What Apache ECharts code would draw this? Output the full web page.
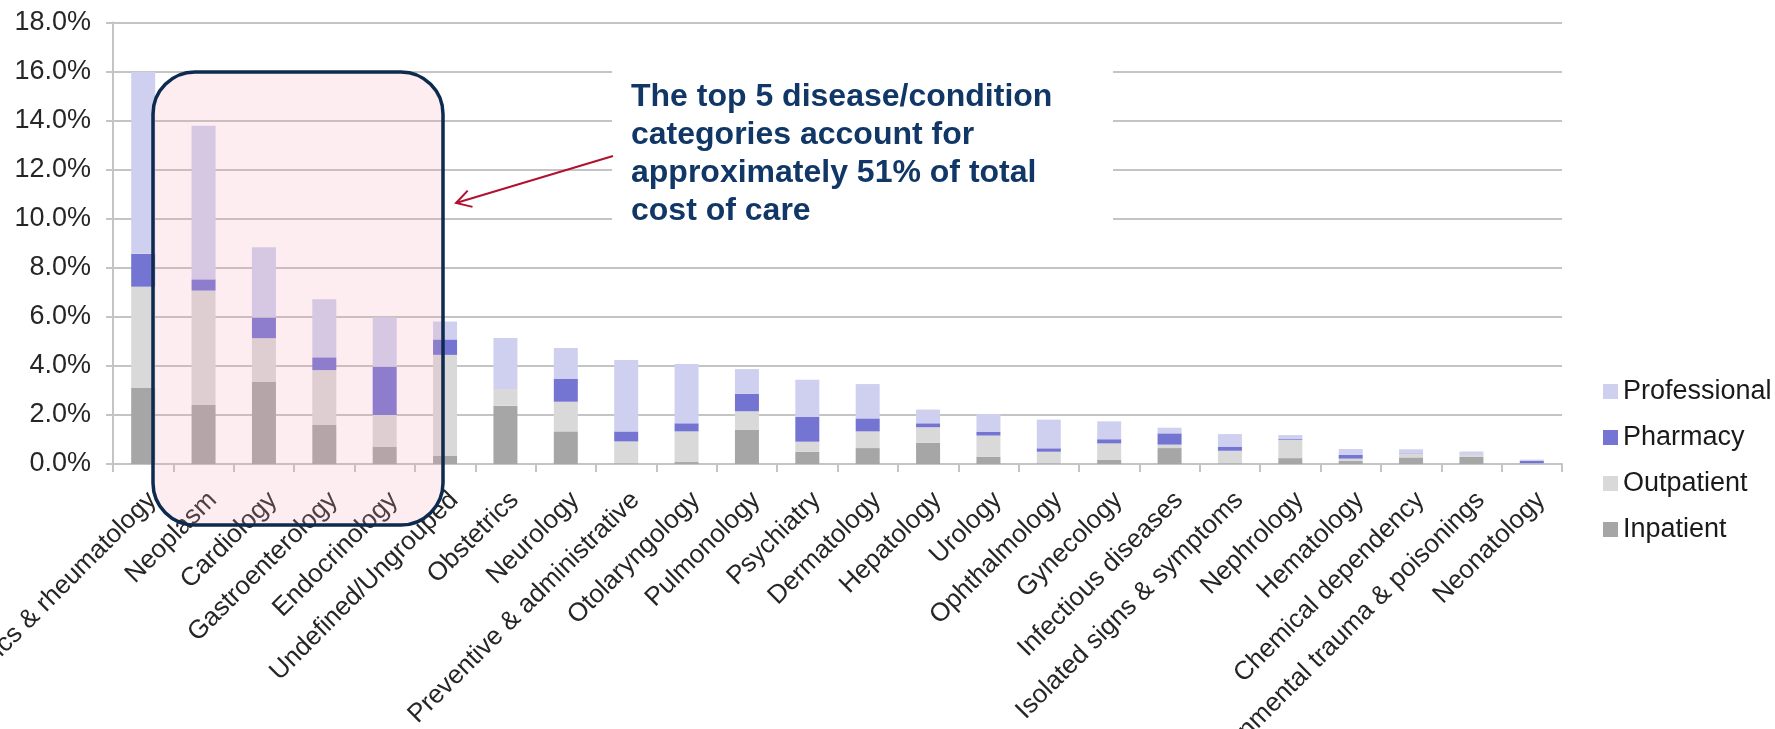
<!DOCTYPE html>
<html>
<head>
<meta charset="utf-8">
<script src="https://cdn.jsdelivr.net/npm/echarts@6/dist/echarts.min.js"></script>
<style>
  html, body { margin: 0; padding: 0; background: #ffffff; }
  #chart { width: 1775px; height: 729px; }
</style>
</head>
<body>
<div id="chart"></div>
<script>
// Share of total cost of care (%) by disease/condition category, split by setting
const categories = [
  'Orthopedics & rheumatology', 'Neoplasm', 'Cardiology', 'Gastroenterology',
  'Endocrinology', 'Undefined/Ungrouped', 'Obstetrics', 'Neurology',
  'Preventive & administrative', 'Otolaryngology', 'Pulmonology', 'Psychiatry',
  'Dermatology', 'Hepatology', 'Urology', 'Ophthalmology', 'Gynecology',
  'Infectious diseases', 'Isolated signs & symptoms', 'Nephrology', 'Hematology',
  'Chemical dependency', 'Environmental trauma & poisonings', 'Neonatology'
];

const inpatient    = [3.10, 2.41, 3.36, 1.59, 0.71, 0.33, 2.38, 1.33, 0.03, 0.08, 1.40, 0.50, 0.65, 0.86, 0.30, 0.03, 0.18, 0.65, 0.03, 0.24, 0.12, 0.27, 0.30, 0.01];
const outpatient   = [4.13, 4.66, 1.77, 2.24, 1.29, 4.12, 0.68, 1.21, 0.89, 1.25, 0.75, 0.41, 0.68, 0.64, 0.86, 0.47, 0.66, 0.14, 0.51, 0.75, 0.10, 0.14, 0.08, 0.02];
const pharmacy     = [1.34, 0.46, 0.84, 0.52, 1.97, 0.63, 0.00, 0.94, 0.41, 0.33, 0.71, 1.02, 0.53, 0.16, 0.16, 0.14, 0.17, 0.46, 0.17, 0.03, 0.15, 0.02, 0.01, 0.10];
const professional = [7.43, 6.26, 2.87, 2.37, 2.01, 0.73, 2.08, 1.25, 2.91, 2.42, 1.01, 1.51, 1.40, 0.56, 0.72, 1.17, 0.73, 0.23, 0.51, 0.16, 0.24, 0.17, 0.12, 0.05];

const legendOrder = ['Professional', 'Pharmacy', 'Outpatient', 'Inpatient'];
const calloutText = 'The top 5 disease/condition\ncategories account for\napproximately 51% of total\ncost of care';

const FONT = '"Liberation Sans", Arial, sans-serif';
const GRID_GRAY = '#c4c4c4';
const LABEL_COLOR = '#262626';

const chart = echarts.init(document.getElementById('chart'), null, { renderer: 'canvas' });

function stackSeries(name, data, color) {
  return {
    name: name,
    type: 'bar',
    stack: 'total',
    barWidth: 24,
    data: data,
    itemStyle: { color: color },
    emphasis: { disabled: true }
  };
}

chart.setOption({
  animation: false,
  backgroundColor: '#ffffff',
  textStyle: { fontFamily: FONT },
  grid: {
    left: 113, top: 22.6, width: 1449, height: 441.4,
    containLabel: false,
    outerBoundsMode: 'none'
  },
  legend: {
    data: legendOrder,
    orient: 'vertical',
    left: 1603,
    top: 378,
    padding: 0,
    icon: 'rect',
    itemWidth: 15,
    itemHeight: 15,
    itemGap: 19,
    selectedMode: false,
    textStyle: { fontSize: 27, color: '#1a1a1a', fontFamily: FONT }
  },
  xAxis: {
    type: 'category',
    data: categories,
    boundaryGap: true,
    axisLine: { lineStyle: { color: GRID_GRAY, width: 2 } },
    axisTick: { show: true, length: 8, interval: 0, lineStyle: { color: GRID_GRAY, width: 2 } },
    axisLabel: {
      interval: 0,
      rotate: 45,
      margin: 23,
      verticalAlign: 'top',
      fontSize: 26,
      color: LABEL_COLOR,
      fontFamily: FONT,
      hideOverlap: false
    }
  },
  yAxis: {
    type: 'value',
    min: 0,
    max: 18,
    interval: 2,
    axisLine: { show: true, lineStyle: { color: GRID_GRAY, width: 2 } },
    axisTick: { show: true, length: 7, lineStyle: { color: GRID_GRAY, width: 2 } },
    splitLine: { show: true, lineStyle: { color: GRID_GRAY, width: 2 } },
    axisLabel: {
      margin: 22,
      fontSize: 27,
      color: LABEL_COLOR,
      fontFamily: FONT,
      formatter: v => v.toFixed(1) + '%'
    }
  },
  series: [
    stackSeries('Inpatient', inpatient, '#a6a6a6'),
    stackSeries('Outpatient', outpatient, '#d9d9d9'),
    stackSeries('Pharmacy', pharmacy, '#7474d2'),
    stackSeries('Professional', professional, '#cfd0ef')
  ],
  graphic: [
    // white panel behind the callout text
    {
      type: 'rect', z: 50,
      shape: { x: 612, y: 40, width: 501, height: 212 },
      style: { fill: '#ffffff' }
    },
    {
      type: 'text', z: 60,
      x: 631, y: 78,
      style: {
        text: calloutText,
        fill: '#113766',
        font: 'bold 32px ' + FONT,
        lineHeight: 38,
        verticalAlign: 'top',
        align: 'left'
      }
    },
    // translucent highlight over the top categories
    {
      type: 'rect', z: 100,
      shape: { x: 153, y: 72, width: 290, height: 453, r: 42 },
      style: { fill: 'rgba(246,164,179,0.2)', stroke: '#0d2a4f', lineWidth: 3.5 }
    },
    // arrow from the callout to the highlight
    {
      type: 'line', z: 110,
      shape: { x1: 613, y1: 156, x2: 456, y2: 203 },
      style: { stroke: '#b0122e', lineWidth: 2 }
    },
    {
      type: 'polyline', z: 110,
      shape: { points: [[467.7, 190.6], [456, 203], [472.5, 206.9]] },
      style: { stroke: '#b0122e', lineWidth: 2, fill: null }
    }
  ]
});
</script>
</body>
</html>
